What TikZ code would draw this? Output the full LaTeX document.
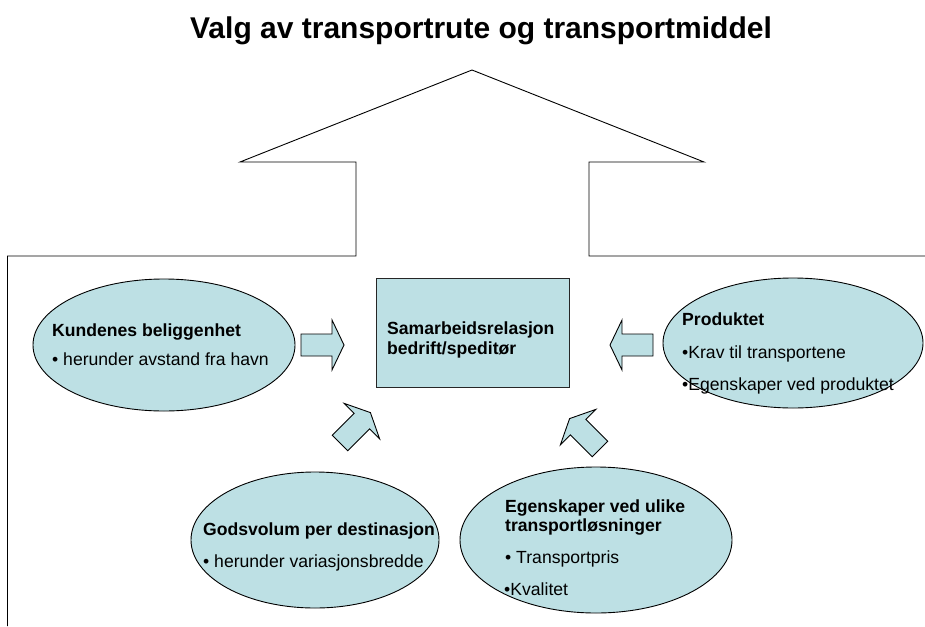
\documentclass[tikz,border=0pt]{standalone}
\usepackage{fontspec}
\setmainfont{Liberation Sans}
\usetikzlibrary{shapes.geometric}
\definecolor{fillblue}{RGB}{189,224,228}
\begin{document}
\begin{tikzpicture}[x=1pt,y=-1pt,
  bubble/.style={ellipse,draw=black,fill=fillblue,line width=0.9pt,inner sep=0pt},
  boxstyle/.style={rectangle,draw=black!85,fill=fillblue,line width=0.9pt,inner sep=0pt},
  headtext/.style={font=\bfseries\fontsize{17.6}{20}\selectfont,anchor=base west,inner sep=0pt},
  itemtext/.style={font=\fontsize{17.6}{20}\selectfont,anchor=base west,inner sep=0pt},
  outline/.style={draw=black,line width=0.9pt,line join=miter},
  blockarrow/.pic={\draw[fill=fillblue,line width=0.9pt,line join=miter]
     (0,-11) -- (31,-11) -- (31,-25) -- (43,0) -- (31,25) -- (31,11) -- (0,11) -- cycle;}
]
\useasboundingbox (0,0) rectangle (925,626);

% title
\node[font=\bfseries\fontsize{30}{34}\selectfont,anchor=base,inner sep=0pt] (title) at (481,38) {Valg av transportrute og transportmiddel};

% house outline
\coordinate (hbl) at (7.5,626);
\coordinate (hl) at (7.5,256);
\coordinate (sl) at (356,256);
\coordinate (slt) at (356,162);
\coordinate (rl) at (240,162);
\coordinate (apex) at (472,70);
\coordinate (rr) at (704,162);
\coordinate (srt) at (589,162);
\coordinate (sr) at (589,256);
\coordinate (hr) at (925,256);
\draw[outline] (hbl) -- (hl) -- (sl) -- (slt) -- (rl) -- (apex) -- (rr) -- (srt) -- (sr) -- (hr);

% ellipses
\node[bubble,minimum width=262,minimum height=132] (e1) at (164,345) {};
\node[bubble,minimum width=260,minimum height=130] (e2) at (793,343) {};
\node[bubble,minimum width=248,minimum height=136] (e3) at (315,540) {};
\node[bubble,minimum width=272,minimum height=146] (e4) at (596,540) {};

% central box
\node[boxstyle,minimum width=193,minimum height=109] (box) at (472.5,332.5) {};
\node[headtext] (b1) at (387,334) {Samarbeidsrelasjon};
\node[headtext] (b2) at (387,354) {bedrift/speditør};

% texts
\node[headtext] (t1a) at (52,336) {Kundenes beliggenhet};
\node[itemtext] (t1b) at (52,365) {• herunder avstand fra havn};

\node[headtext] (t2a) at (682,325) {Produktet};
\node[itemtext] (t2b) at (682,358) {•Krav til transportene};
\node[itemtext] (t2c) at (682,390) {•Egenskaper ved produktet};

\node[headtext] (t3a) at (203,535) {Godsvolum per destinasjon};
\node[itemtext] (t3b) at (203,567) {• herunder variasjonsbredde};

\node[headtext] (t4a) at (505,512) {Egenskaper ved ulike};
\node[headtext] (t4b) at (505,531) {transportløsninger};
\node[itemtext] (t4c) at (505,563) {• Transportpris};
\node[itemtext] (t4d) at (504,595) {•Kvalitet};

% block arrows
\pic at (301,345) {blockarrow};
\pic[rotate=180] at (653,345) {blockarrow};
\pic[rotate=45] at (340,443) {blockarrow};
\pic[rotate=135] at (600,449) {blockarrow};
\end{tikzpicture}
\end{document}
